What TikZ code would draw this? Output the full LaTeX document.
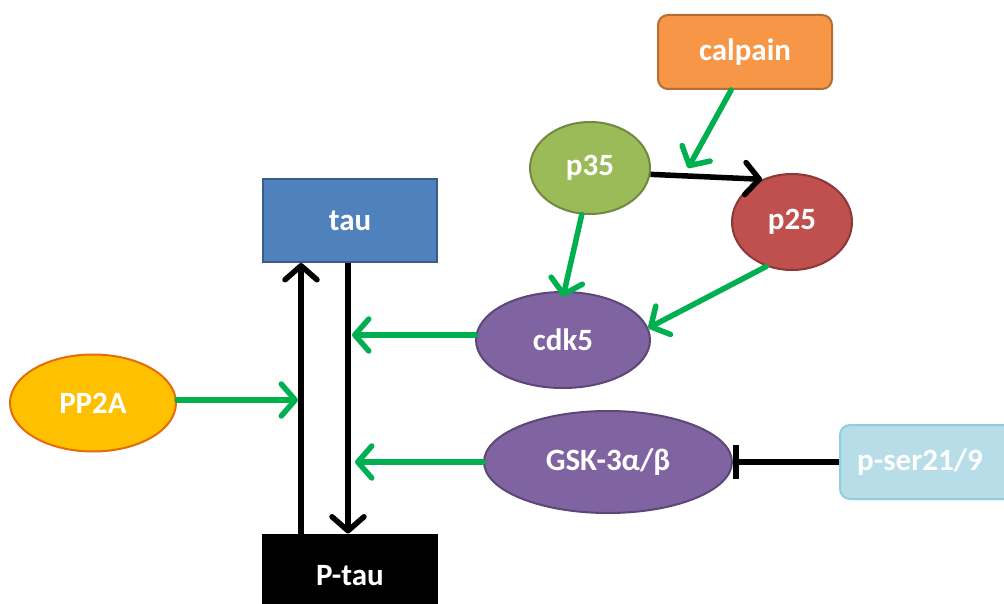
\documentclass[tikz,border=0pt]{standalone}
\usepackage{fontspec}
\setmainfont{Carlito}
\usetikzlibrary{arrows.meta,shapes.geometric}
\definecolor{calfill}{HTML}{F79646}
\definecolor{caldraw}{HTML}{B66D31}
\definecolor{pgreen}{HTML}{9BBB59}
\definecolor{pgreend}{HTML}{71893F}
\definecolor{pred}{HTML}{C0504D}
\definecolor{predd}{HTML}{8C3836}
\definecolor{tblue}{HTML}{4F81BD}
\definecolor{tblued}{HTML}{385D8A}
\definecolor{kpurple}{HTML}{8064A2}
\definecolor{kpurpled}{HTML}{5C4776}
\definecolor{ppfill}{HTML}{FFC000}
\definecolor{ppdraw}{HTML}{E46C0A}
\definecolor{sfill}{HTML}{B7DEE8}
\definecolor{sdraw}{HTML}{93CDDD}
\definecolor{agreen}{HTML}{00B050}
\tikzset{
  lbl/.style={text=white, font=\fontsize{31}{31}\selectfont\bfseries, line width=2pt},
  boxn/.style={lbl, rectangle, minimum width=174pt, minimum height=83pt, inner sep=0pt},
  rbox/.style={boxn, rounded corners=10pt},
  oval/.style={lbl, ellipse, inner sep=0pt},
  act/.style={draw=agreen, line width=5.5pt, line cap=round, -{Straight Barb[length=14pt,width=32pt,line cap=round,line join=round]}},
  conv/.style={draw=black, line width=5.5pt, -{Straight Barb[length=14pt,width=32pt,line cap=round,line join=round]}},
  inh/.style={draw=black, line width=5.5pt, -{Bar[width=34pt]}},
}
\begin{document}
\begin{tikzpicture}[x=1pt,y=-1pt]
\useasboundingbox (0,0) rectangle (1004,604);
\begin{scope}
\clip (0,0) rectangle (1004,604);
% nodes
\node[rbox, fill=calfill, draw=caldraw, minimum width=174pt, minimum height=74pt] (calpain) at (745,52) {calpain};
\node[oval, fill=pgreen, draw=pgreend, minimum width=120pt, minimum height=92pt] (p35) at (590,168) {p35};
\node[oval, fill=pred, draw=predd, minimum width=120pt, minimum height=96pt] (p25) at (792,222) {p25};
\node[boxn, fill=tblue, draw=tblued] (tau) at (350,220.5) {tau};
\node[oval, fill=kpurple, draw=kpurpled, minimum width=174pt, minimum height=96pt] (cdk5) at (563,340) {cdk5};
\node[oval, fill=ppfill, draw=ppdraw, minimum width=166pt, minimum height=97pt] (pp2a) at (93,403) {PP2A};
\node[oval, fill=kpurple, draw=kpurpled, minimum width=248pt, minimum height=102pt] (gsk) at (608,462) {GSK-3α/β};
\node[rbox, fill=sfill, draw=sdraw, minimum width=180pt, minimum height=74pt] (pser) at (930,462) {\hspace*{-20pt}p-ser21/9};
\node[boxn, fill=black, draw=black] (ptau) at (350,576) {P-tau};
% junction points on the tau cycle
\coordinate (jcdk) at (352,335);
\coordinate (jpp) at (298,400);
\coordinate (jgsk) at (355,462);
\coordinate (jcal) at (688,168);
% tau cycle
\draw[conv] ([xshift=-2pt]tau.south) -- ([xshift=-2pt]ptau.north);
\draw[conv] ([xshift=-49pt]ptau.north) -- ([xshift=-49pt]tau.south);
% green activations
\draw[act] (cdk5.west |- jcdk) -- (jcdk);
\draw[act] (pp2a.east |- jpp) -- (jpp);
\draw[act] (gsk.west) -- (jgsk);
\draw[act] (p35.-100) -- ([yshift=-6pt]cdk5.north);
\draw[act] (p25.-120) -- (cdk5.8);
\draw[act] (calpain.-110) -- (jcal);
% conversion p35 -> p25
\draw[conv] (p35.-6) -- (p25.125);
% inhibition
\draw[inh] (pser.west) -- (gsk.east);
\end{scope}
\end{tikzpicture}
\end{document}
